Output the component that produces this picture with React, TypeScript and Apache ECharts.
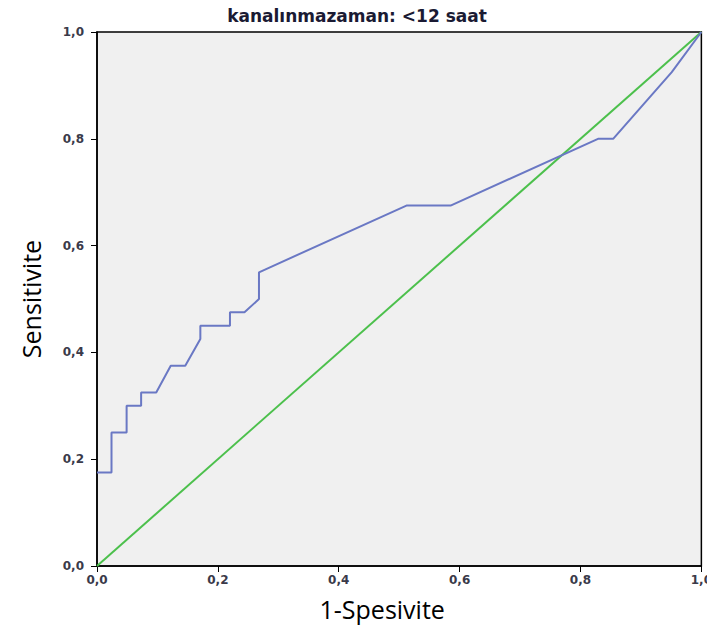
import React, { useEffect, useRef } from "react";
import * as echarts from "echarts";

const titleText = "kanalınmazaman: <12 saat";
const xAxisTitle = "1-Spesivite";
const yAxisTitle = "Sensitivite";

// ROC curve points (1-specificity, sensitivity)
const rocFpr = [0, 0.024, 0.024, 0.049, 0.049, 0.073, 0.073, 0.098, 0.122, 0.146, 0.171, 0.171, 0.22, 0.22, 0.244, 0.268, 0.268, 0.512, 0.585, 0.829, 0.854, 0.951, 1.0];
const rocTpr = [0.175, 0.175, 0.25, 0.25, 0.3, 0.3, 0.325, 0.325, 0.375, 0.375, 0.425, 0.45, 0.45, 0.475, 0.475, 0.5, 0.55, 0.675, 0.675, 0.8, 0.8, 0.925, 1.0];

// Reference line
const refX = [0, 1];
const refY = [0, 1];

const fmt = (v: number) => v.toFixed(1).replace(".", ",");

export default function App() {
  const ref = useRef<HTMLDivElement>(null);
  useEffect(() => {
    if (!ref.current) return;
    const chart = echarts.init(ref.current, null, { renderer: "svg" });
    const axisLabel = {
      color: "#3a3a4a",
      fontFamily: "DejaVu Sans",
      fontWeight: "bold" as const,
      fontSize: 12,
      formatter: fmt,
    };
    chart.setOption({
      animation: false,
      backgroundColor: "#ffffff",
      title: {
        text: titleText,
        left: 352,
        top: 2,
        textAlign: "center",
        textStyle: {
          fontFamily: "DejaVu Sans",
          fontWeight: "bold",
          fontSize: 17,
          color: "#1a1a33",
        },
      },
      grid: {
        left: 97,
        top: 32,
        width: 606,
        height: 534,
        show: true,
        backgroundColor: "#f0f0f0",
        borderColor: "#000",
        borderWidth: 1.5,
      },
      xAxis: {
        type: "value",
        min: 0,
        max: 1,
        interval: 0.2,
        name: xAxisTitle,
        nameLocation: "middle",
        nameGap: 30,
        nameTextStyle: { fontFamily: "Open Sans", fontSize: 25, color: "#000", padding: [0, 34, 0, 0] },
        axisLine: { show: true, lineStyle: { color: "#000", width: 1.5 } },
        axisTick: { show: true, length: 6, lineStyle: { color: "#000" } },
        axisLabel: { ...axisLabel, margin: 8 },
        splitLine: { show: false },
      },
      yAxis: {
        type: "value",
        min: 0,
        max: 1,
        interval: 0.2,
        name: yAxisTitle,
        nameLocation: "middle",
        nameGap: 54,
        nameTextStyle: { fontFamily: "Open Sans", fontSize: 25, color: "#000" },
        axisLine: { show: true, lineStyle: { color: "#000", width: 1.5 } },
        axisTick: { show: true, length: 6, lineStyle: { color: "#000" } },
        axisLabel: { ...axisLabel, margin: 13 },
        splitLine: { show: false },
      },
      series: [
        {
          type: "line",
          data: refX.map((x, i) => [x, refY[i]]),
          symbol: "none",
          lineStyle: { color: "#4cc04c", width: 2 },
          z: 3,
        },
        {
          type: "line",
          data: rocFpr.map((x, i) => [x, rocTpr[i]]),
          symbol: "none",
          lineStyle: { color: "#6a78c4", width: 2 },
          z: 4,
        },
      ],
    });
    return () => chart.dispose();
  }, []);
  return <div ref={ref} style={{ width: 715, height: 644, margin: -8 }} />;
}
